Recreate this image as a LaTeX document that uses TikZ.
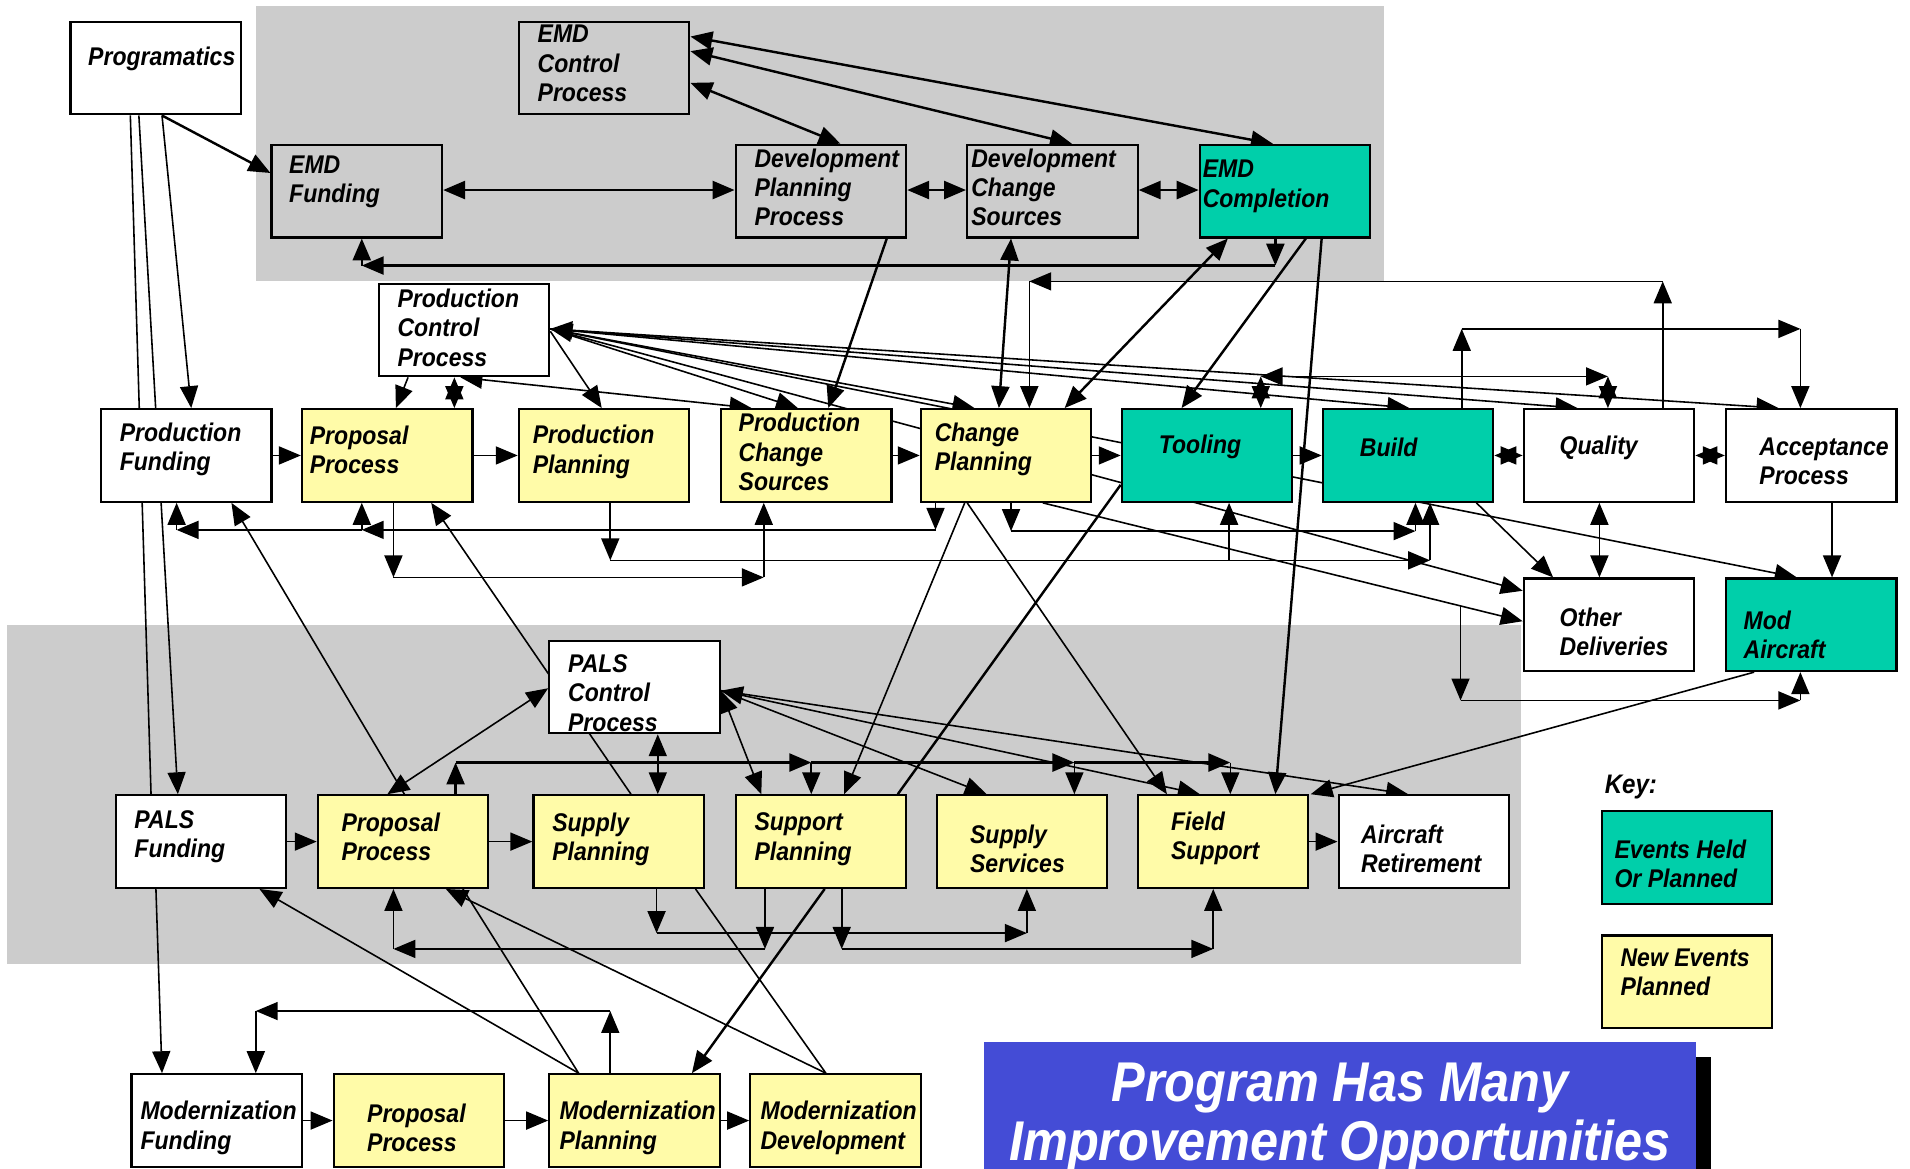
\documentclass[tikz,border=0pt]{standalone}
\usepackage{fontspec}
\setmainfont{Liberation Sans}[FakeStretch=0.9]
\usetikzlibrary{arrows.meta}
\definecolor{tealc}{RGB}{0,207,170}
\definecolor{yelc}{RGB}{255,251,168}
\definecolor{grayc}{RGB}{204,204,204}
\definecolor{bluec}{RGB}{68,76,214}
\pgfdeclarelayer{bg}
\pgfdeclarelayer{front}
\pgfsetlayers{bg,main,front}
\tikzset{
  bx/.style={draw=black, line width=0.9pt, minimum width=70pt, minimum height=38pt, inner sep=0pt, anchor=north west},
  wb/.style={bx, fill=white},
  yb/.style={bx, fill=yelc},
  tb/.style={bx, fill=tealc},
  gb/.style={bx, fill=grayc},
  lbl/.style={anchor=west, align=left, inner sep=0pt, font=\fontsize{10.5}{12}\selectfont\bfseries\itshape},
  tip/.tip={Triangle[length=9pt,width=7.4pt]},
  arw/.style={line width=0.65pt, -tip},
  darw/.style={line width=0.65pt, tip-tip},
  lne/.style={line width=0.65pt},
  thk/.style={line width=1pt},
}
\begin{document}
\begin{tikzpicture}[x=0.5pt,y=-0.5pt]
\useasboundingbox (0,0) rectangle (1568,959);
\begin{pgfonlayer}{bg}
  \fill[grayc] (210,5) rectangle (1136,231);
  \fill[grayc] (6,513) rectangle (1249,791);
\end{pgfonlayer}
\begin{pgfonlayer}{front}
  % boxes
  \node[wb] (prog) at (57,17) {};
  \node[gb] (emdctl) at (425,17) {};
  \node[gb] (emdf) at (222,118) {};
  \node[gb] (dpp) at (603,118) {};
  \node[gb] (dcs) at (793,118) {};
  \node[tb] (emdc) at (984,118) {};
  \node[wb] (pcp) at (310,232) {};
  \node[wb] (pf) at (82,335) {};
  \node[yb] (pp) at (247,335) {};
  \node[yb] (ppl) at (425,335) {};
  \node[yb] (pcs) at (591,335) {};
  \node[yb] (cp) at (755,335) {};
  \node[tb] (tool) at (920,335) {};
  \node[tb] (build) at (1085,335) {};
  \node[wb] (qual) at (1250,335) {};
  \node[wb] (acc) at (1416,335) {};
  \node[wb] (od) at (1250,474) {};
  \node[tb] (ma) at (1416,474) {};
  \node[wb] (palsc) at (450,525) {};
  \node[wb] (palsf) at (94,652) {};
  \node[yb] (pp2) at (260,652) {};
  \node[yb] (supp) at (437,652) {};
  \node[yb] (sptp) at (603,652) {};
  \node[yb] (sups) at (768,652) {};
  \node[yb] (fs) at (933,652) {};
  \node[wb] (airr) at (1098,652) {};
  \node[wb] (mf) at (107,881) {};
  \node[yb] (pp3) at (273,881) {};
  \node[yb] (mp) at (450,881) {};
  \node[yb] (md) at (615,881) {};
  \node[tb] (key1) at (1314,665) {};
  \node[yb] (key2) at (1314,767) {};
  % labels
  \node[lbl] (prog-t) at (72,48) {Programatics};
  \node[lbl] (emdctl-t) at (441,52) {EMD\\Control\\Process};
  \node[lbl] (emdf-t) at (237,149) {EMD\\Funding};
  \node[lbl] (dpp-t) at (619,154) {Development\\Planning\\Process};
  \node[lbl] (dcs-t) at (797,154) {Development\\Change\\Sources};
  \node[lbl] (emdc-t) at (987,153) {EMD\\Completion};
  \node[lbl] (pcp-t) at (326,269) {Production\\Control\\Process};
  \node[lbl] (pf-t) at (98,369) {Production\\Funding};
  \node[lbl] (pp-t) at (254,369) {Proposal\\Process};
  \node[lbl] (ppl-t) at (437,371) {Production\\Planning};
  \node[lbl] (pcs-t) at (606,371) {Production\\Change\\Sources};
  \node[lbl] (cp-t) at (767,369) {Change\\Planning};
  \node[lbl] (tool-t) at (951,367) {Tooling};
  \node[lbl] (build-t) at (1116,367) {Build};
  \node[lbl] (qual-t) at (1280,368) {Quality};
  \node[lbl] (acc-t) at (1444,379) {Acceptance\\Process};
  \node[lbl] (od-t) at (1280,519) {Other\\Deliveries};
  \node[lbl] (ma-t) at (1431,521) {Mod\\Aircraft};
  \node[lbl] (palsc-t) at (466,569) {PALS\\Control\\Process};
  \node[lbl] (palsf-t) at (110,687) {PALS\\Funding};
  \node[lbl] (pp2-t) at (280,687) {Proposal\\Process};
  \node[lbl] (supp-t) at (453,689) {Supply\\Planning};
  \node[lbl] (sptp-t) at (619,689) {Support\\Planning};
  \node[lbl] (sups-t) at (796,697) {Supply\\Services};
  \node[lbl] (fs-t) at (961,688) {Field\\Support};
  \node[lbl] (airr-t) at (1117,697) {Aircraft\\Retirement};
  \node[lbl] (mf-t) at (115,926) {Modernization\\Funding};
  \node[lbl] (pp3-t) at (301,926) {Proposal\\Process};
  \node[lbl] (mp-t) at (459,926) {Modernization\\Planning};
  \node[lbl] (md-t) at (624,926) {Modernization\\Development};
  \node[lbl, font=\fontsize{11}{13}\selectfont\bfseries\itshape] (key) at (1317,646) {Key:};
  \node[lbl] (key1-t) at (1325,709) {Events Held\\Or Planned};
  \node[lbl] (key2-t) at (1330,798) {New Events\\Planned};
  % title
  \fill[black] (821,868) rectangle (1405,975);
  \fill[bluec] (808,855) rectangle (1392,975);
  \node[anchor=base, inner sep=0pt, text=white, font=\fontsize{23}{24}\selectfont\bfseries\itshape] (title1) at (1100,904) {Program Has Many};
  \node[anchor=base, inner sep=0pt, text=white, font=\fontsize{23}{24}\selectfont\bfseries\itshape] (title2) at (1100,953) {Improvement Opportunities};
\end{pgfonlayer}

% ---------- top region ----------
\draw[arw,thk] (prog.south -| 133,0) -- (emdf.west |- 0,142);
\draw[arw] (prog.south -| 133,0) -- (pf.north -| 157,0);
\draw[lne] (prog.south -| 107,0) -- (palsf.north -| 124,0);
\draw[arw] (prog.south -| 114,0) -- (palsf.north -| 146,0);
\draw[darw,thk] (emdctl.east |- 0,68) -- (dpp.north -| 690,0);
\draw[darw,thk] (emdctl.east |- 0,42) -- (dcs.north -| 880,0);
\draw[darw,thk] (emdctl.east |- 0,30) -- (emdc.north -| 1045,0);
\draw[darw,thk] (emdf.east |- 0,156) -- (dpp.west |- 0,156);
\draw[darw,thk] (dpp.east |- 0,156) -- (dcs.west |- 0,156);
\draw[darw,thk] (dcs.east |- 0,156) -- (emdc.west |- 0,156);
\coordinate (b1) at (1047,218);
\coordinate (b2) at (297,218);
\draw[arw,thk] (emdc.south -| b1) -- (b1);
\draw[arw,thk] (b1) -- (b2);
\draw[arw,thk] (b2) -- (emdf.south -| b2);
\draw[arw,thk] (dpp.south -| 728,0) -- (pcs.north -| 680,0);
\draw[darw,thk] (dcs.south -| 830,0) -- (cp.north -| 820,0);
\draw[darw,thk] (emdc.south -| 1008,0) -- (cp.north -| 874,0);
\draw[arw,thk] (emdc.south -| 1072,0) -- (tool.north -| 970,0);
\draw[arw,thk] (emdc.south -| 1085,0) -- (fs.north -| 1047,0);

% ---------- buses above production row ----------
\coordinate (q1) at (1365,231);
\coordinate (q2) at (845,231);
\draw[arw] (qual.north -| q1) -- (q1);
\draw[arw] (q1) -- (q2);
\draw[arw] (q2) -- (cp.north -| q2);
\coordinate (u1) at (1200,270);
\coordinate (u2) at (1478,270);
\draw[arw] (build.north -| u1) -- (u1);
\draw[arw] (u1) -- (u2);
\draw[arw] (u2) -- (acc.north -| u2);
\coordinate (t1) at (1035,309);
\coordinate (t2) at (1320,309);
\draw[darw] (tool.north -| t1) -- (t1);
\draw[darw] (t1) -- (t2);
\draw[darw] (t2) -- (qual.north -| t2);

% ---------- production control fan ----------
\draw[darw] (pcp.east |- 0,270) -- (acc.north -| 1460,0);
\draw[arw] (pcp.east |- 0,270) -- (qual.north -| 1295,0);
\draw[arw] (pcp.east |- 0,270) -- (build.north -| 1157,0);
\draw[darw] (pcp.east |- 0,270) -- (cp.north -| 800,0);
\draw[arw] (pcp.east |- 0,270) -- (pcs.north -| 655,0);
\draw[arw] (pcp.east |- 0,272) -- (ppl.north -| 494,0);
\draw[arw] (pcp.east |- 0,270) -- (ma.north -| 1475,0);
\draw[arw] (pcp.east |- 0,270) -- (od.west |- 0,485);
\draw[arw] (pcp.south -| 335,0) -- (pp.north -| 325,0);
\draw[darw] (pcp.south -| 378,0) -- (pcs.north -| 617,0);
\draw[darw] (pcp.south -| 373,0) -- (pp.north -| 373,0);

% ---------- production row ----------
\draw[arw] (pf.east) -- (pp.west);
\draw[arw] (pp.east) -- (ppl.west);
\draw[arw] (pcs.east) -- (cp.west);
\draw[arw] (cp.east) -- (tool.west);
\draw[arw] (tool.east) -- (build.west);
\draw[darw] (build.east) -- (qual.west);
\draw[darw] (qual.east) -- (acc.west);

% ---------- buses below production row ----------
\coordinate (c1) at (768,435);
\coordinate (c2) at (297,435);
\coordinate (c3) at (145,435);
\draw[arw] (cp.south -| c1) -- (c1);
\draw[arw] (c1) -- (c2);
\draw[arw] (c2) -- (pp.south -| c2);
\draw[arw] (c2) -- (c3);
\draw[arw] (c3) -- (pf.south -| c3);
\coordinate (d1) at (323,474);
\coordinate (d2) at (627,474);
\draw[arw] (pp.south -| d1) -- (d1);
\draw[arw] (d1) -- (d2);
\draw[arw] (d2) -- (pcs.south -| d2);
\coordinate (e1) at (501,460);
\coordinate (e2) at (1174,460);
\coordinate (e3) at (1009,460);
\draw[arw] (ppl.south -| e1) -- (e1);
\draw[arw] (e1) -- (e2);
\draw[arw] (e2) -- (build.south -| e2);
\draw[arw] (e3) -- (tool.south -| e3);
\coordinate (f1) at (830,436);
\coordinate (f2) at (1162,436);
\draw[arw] (cp.south -| f1) -- (f1);
\draw[arw] (f1) -- (f2);
\draw[arw] (f2) -- (build.south -| f2);
\draw[arw] (cp.south -| 856,0) -- (od.west |- 0,510);
\coordinate (g1) at (1199,497);
\coordinate (g2) at (1199,575);
\coordinate (g3) at (1478,575);
\draw[arw] (g1) -- (g2);
\draw[arw] (g2) -- (g3);
\draw[arw] (g3) -- (ma.south -| g3);
\draw[arw] (build.south -| 1212,0) -- (od.north -| 1275,0);
\draw[darw] (qual.south -| 1313,0) -- (od.north -| 1313,0);
\draw[arw] (acc.south -| 1504,0) -- (ma.north -| 1504,0);

% ---------- cross links to PALS ----------
\draw[arw] (cp.south -| 792,0) -- (sptp.north -| 693,0);
\draw[arw] (cp.south -| 794,0) -- (fs.north -| 958,0);
\draw[lne,thk] (tool.west |- 0,398) -- (sptp.north -| 737,0);
\draw[arw] (pp2.north -| 332,0) -- (pf.south -| 190,0);
\draw[arw] (supp.north -| 518,0) -- (pp.south -| 354,0);
\draw[darw] (pp2.north -| 318,0) -- (palsc.west |- 0,565);
\draw[darw] (palsc.south -| 540,0) -- (supp.north -| 540,0);
\draw[darw] (palsc.east |- 0,567) -- (sptp.north -| 625,0);
\draw[arw] (palsc.east |- 0,567) -- (sups.north -| 810,0);
\draw[darw] (palsc.east |- 0,567) -- (fs.north -| 985,0);
\draw[arw] (palsc.east |- 0,567) -- (airr.north -| 1156,0);
\draw[arw] (ma.south -| 1440,0) -- (fs.north -| 1076,0);

% ---------- PALS bus ----------
\coordinate (h0) at (374,626);
\coordinate (h1) at (666,626);
\coordinate (h2) at (882,626);
\coordinate (h3) at (1010,626);
\draw[arw,thk] (pp2.north -| h0) -- (h0);
\draw[arw,thk] (h0) -- (h1);
\draw[arw,thk] (h1) -- (h2);
\draw[arw,thk] (h2) -- (h3);
\draw[arw] (h1) -- (sptp.north -| h1);
\draw[arw] (h2) -- (sups.north -| h2);
\draw[arw] (h3) -- (fs.north -| h3);

% ---------- PALS row ----------
\draw[arw] (palsf.east) -- (pp2.west);
\draw[arw] (pp2.east) -- (supp.west);
\draw[arw] (fs.east) -- (airr.west);
\coordinate (i1) at (539,766);
\coordinate (i2) at (843,766);
\draw[arw] (supp.south -| i1) -- (i1);
\draw[arw] (i1) -- (i2);
\draw[arw] (i2) -- (sups.south -| i2);
\coordinate (j1) at (628,779);
\coordinate (j2) at (323,779);
\draw[arw] (sptp.south -| j1) -- (j1);
\draw[arw] (j1) -- (j2);
\draw[arw] (j2) -- (pp2.south -| j2);
\coordinate (k1) at (691,779);
\coordinate (k2) at (996,779);
\draw[arw] (sptp.south -| k1) -- (k1);
\draw[arw] (k1) -- (k2);
\draw[arw] (k2) -- (fs.south -| k2);

% ---------- modernization ----------
\draw[lne] (supp.south -| 571,0) -- (md.north -| 678,0);
\draw[arw] (md.north -| 678,0) -- (pp2.south -| 366,0);
\draw[arw] (mp.north -| 475,0) -- (palsf.south -| 213,0);
\draw[lne] (mp.north -| 475,0) -- (pp2.south -| 380,0);
\draw[arw,thk] (sptp.south -| 677,0) -- (mp.north -| 568,0);
\coordinate (m1) at (501,830);
\coordinate (m2) at (210,830);
\draw[arw] (mp.north -| m1) -- (m1);
\draw[arw] (m1) -- (m2);
\draw[arw] (m2) -- (mf.north -| m2);
\draw[arw] (palsf.south -| 128,0) -- (mf.north -| 133,0);
\draw[arw] (mf.east) -- (pp3.west);
\draw[arw] (pp3.east) -- (mp.west);
\draw[arw] (mp.east) -- (md.west);
\end{tikzpicture}
\end{document}
